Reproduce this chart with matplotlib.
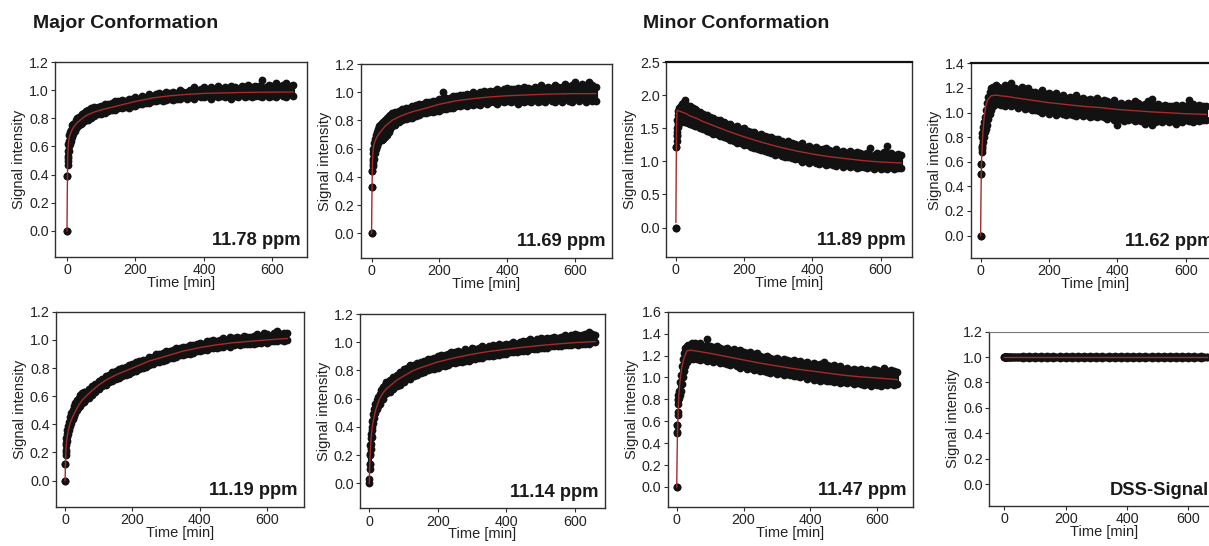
import matplotlib
matplotlib.use("Agg")
import matplotlib.pyplot as plt

plt.rcParams['font.family'] = ['Liberation Sans', 'DejaVu Sans']

# ---------------- data ----------------
time_min = [0, 1, 2, 3, 4, 5, 7, 9, 12, 15, 18, 22, 26, 30, 35, 40, 45, 50, 55,
            60, 70, 80, 90, 100, 110, 120, 130, 140, 150,
            160, 170, 180, 190, 200, 210, 220, 230, 240, 250,
            260, 270, 280, 290, 300, 310, 320, 330, 340, 350,
            360, 370, 380, 390, 400, 410, 420, 430, 440, 450,
            460, 470, 480, 490, 500, 510, 520, 530, 540, 550,
            560, 570, 580, 590, 600, 610, 620, 630, 640, 650,
            660]

fit_time = [0, 1, 2, 3, 5, 7, 10, 15, 20, 30, 40, 50, 60, 80, 100, 125, 150,
            200, 250, 300, 350, 400, 450, 500, 550, 600, 660]

# 11.78 ppm
p1178_hi = [0.0, 0.39, 0.52, 0.57, 0.62, 0.64, 0.68, 0.70, 0.72, 0.75, 0.76, 0.77, 0.79, 0.80, 0.81, 0.82, 0.83, 0.84, 0.85,
            0.86, 0.87, 0.88, 0.88, 0.89, 0.90, 0.90, 0.91, 0.92, 0.92,
            0.93, 0.92, 0.94, 0.94, 0.95, 0.94, 0.96, 0.95, 0.97, 0.96,
            0.97, 0.98, 0.97, 0.99, 0.98, 0.99, 0.98, 1.00, 0.99, 0.99,
            1.00, 1.02, 1.00, 1.01, 1.02, 1.00, 1.02, 1.01, 1.03, 1.01,
            1.02, 1.01, 1.03, 1.02, 1.01, 1.03, 1.02, 1.04, 1.02, 1.03,
            1.03, 1.07, 1.02, 1.04, 1.03, 1.05, 1.03, 1.04, 1.05, 1.03,
            1.04]
p1178_lo = [0.0, 0.39, 0.47, 0.50, 0.53, 0.57, 0.60, 0.62, 0.64, 0.67, 0.69, 0.71, 0.73, 0.74, 0.75, 0.76, 0.77, 0.78, 0.79,
            0.79, 0.80, 0.82, 0.83, 0.83, 0.84, 0.85, 0.86, 0.86, 0.87,
            0.87, 0.88, 0.87, 0.89, 0.89, 0.90, 0.90, 0.91, 0.91, 0.92,
            0.92, 0.93, 0.92, 0.93, 0.94, 0.93, 0.94, 0.94, 0.95, 0.94,
            0.95, 0.94, 0.96, 0.95, 0.95, 0.96, 0.94, 0.96, 0.95, 0.96,
            0.95, 0.96, 0.94, 0.96, 0.95, 0.97, 0.95, 0.96, 0.95, 0.96,
            0.96, 0.95, 0.97, 0.95, 0.96, 0.95, 0.97, 0.96, 0.95, 0.97,
            0.96]
p1178_fit = [0.0, 0.30, 0.50, 0.58, 0.64, 0.67, 0.69, 0.72, 0.74, 0.77, 0.79, 0.81, 0.825, 0.845, 0.86, 0.875, 0.89,
             0.92, 0.945, 0.96, 0.97, 0.977, 0.98, 0.983, 0.985, 0.986, 0.987]

# 11.69 ppm
p1169_hi = [0.0, 0.33, 0.44, 0.53, 0.57, 0.60, 0.64, 0.67, 0.70, 0.72, 0.74, 0.76, 0.77, 0.78, 0.79, 0.80, 0.82, 0.83, 0.84,
            0.85, 0.86, 0.87, 0.88, 0.89, 0.89, 0.90, 0.91, 0.92, 0.92,
            0.93, 0.93, 0.94, 0.94, 0.95, 1.00, 0.96, 0.96, 0.97, 0.97,
            0.98, 0.98, 0.99, 0.98, 1.00, 0.99, 1.00, 1.01, 1.00, 1.01,
            1.01, 1.02, 1.01, 1.02, 1.03, 1.02, 1.02, 1.03, 1.02, 1.04,
            1.03, 1.02, 1.04, 1.03, 1.05, 1.03, 1.04, 1.03, 1.05, 1.04,
            1.04, 1.06, 1.04, 1.05, 1.07, 1.04, 1.06, 1.05, 1.07, 1.05,
            1.04]
p1169_lo = [0.0, 0.33, 0.44, 0.48, 0.49, 0.51, 0.53, 0.57, 0.60, 0.62, 0.64, 0.66, 0.67, 0.66, 0.67, 0.68, 0.70, 0.72, 0.74,
            0.76, 0.77, 0.79, 0.80, 0.81, 0.82, 0.82, 0.83, 0.84, 0.85,
            0.85, 0.86, 0.86, 0.87, 0.87, 0.88, 0.88, 0.89, 0.89, 0.90,
            0.90, 0.91, 0.90, 0.92, 0.91, 0.92, 0.91, 0.93, 0.92, 0.93,
            0.93, 0.92, 0.94, 0.93, 0.94, 0.93, 0.94, 0.92, 0.94, 0.93,
            0.94, 0.93, 0.95, 0.93, 0.94, 0.93, 0.95, 0.94, 0.93, 0.95,
            0.93, 0.95, 0.94, 0.93, 0.95, 0.94, 0.96, 0.93, 0.95, 0.94,
            0.94]
p1169_fit = [0.0, 0.25, 0.42, 0.52, 0.60, 0.63, 0.65, 0.68, 0.70, 0.73, 0.76, 0.78, 0.80, 0.825, 0.845, 0.865, 0.88,
             0.915, 0.94, 0.955, 0.967, 0.975, 0.98, 0.985, 0.988, 0.99, 0.99]

# 11.89 ppm
p1189_hi = [0.0, 1.22, 1.38, 1.50, 1.62, 1.70, 1.76, 1.80, 1.82, 1.84, 1.86, 1.88, 1.92, 1.85, 1.84, 1.83, 1.82, 1.80, 1.79,
            1.77, 1.75, 1.71, 1.70, 1.67, 1.66, 1.62, 1.63, 1.59, 1.57,
            1.56, 1.52, 1.53, 1.49, 1.50, 1.46, 1.45, 1.44, 1.40, 1.41,
            1.39, 1.36, 1.37, 1.33, 1.34, 1.31, 1.28, 1.30, 1.27, 1.26,
            1.25, 1.27, 1.22, 1.23, 1.20, 1.22, 1.19, 1.18, 1.20, 1.17,
            1.16, 1.18, 1.14, 1.15, 1.13, 1.16, 1.12, 1.14, 1.13, 1.11,
            1.12, 1.20, 1.10, 1.13, 1.11, 1.14, 1.23, 1.12, 1.10, 1.11,
            1.09]
p1189_lo = [0.0, 1.22, 1.30, 1.40, 1.45, 1.52, 1.56, 1.58, 1.60, 1.62, 1.60, 1.61, 1.60, 1.59, 1.58, 1.57, 1.56, 1.55, 1.53,
            1.53, 1.51, 1.49, 1.46, 1.45, 1.42, 1.41, 1.38, 1.37, 1.35,
            1.32, 1.31, 1.28, 1.27, 1.25, 1.24, 1.21, 1.20, 1.19, 1.17,
            1.16, 1.14, 1.12, 1.10, 1.11, 1.08, 1.07, 1.06, 1.05, 1.04,
            1.03, 0.99, 1.01, 0.98, 1.00, 0.97, 0.96, 0.98, 0.95, 0.96,
            0.95, 0.93, 0.96, 0.92, 0.94, 0.91, 0.93, 0.90, 0.92, 0.91,
            0.90, 0.92, 0.89, 0.91, 0.88, 0.90, 0.89, 0.91, 0.88, 0.90,
            0.90]
p1189_fit = [0.08, 0.90, 1.50, 1.75, 1.77, 1.765, 1.76, 1.75, 1.74, 1.72, 1.69, 1.67, 1.65, 1.60, 1.56, 1.51, 1.46,
             1.37, 1.29, 1.22, 1.16, 1.11, 1.07, 1.04, 1.01, 0.99, 0.975]

# 11.62 ppm
p1162_hi = [0.0, 0.50, 0.58, 0.72, 0.80, 0.83, 0.88, 0.92, 0.96, 1.02, 1.08, 1.13, 1.17, 1.20, 1.21, 1.20, 1.22, 1.21, 1.20,
            1.20, 1.22, 1.19, 1.24, 1.20, 1.18, 1.21, 1.19, 1.20, 1.17,
            1.17, 1.16, 1.18, 1.15, 1.16, 1.14, 1.16, 1.13, 1.14, 1.12,
            1.13, 1.12, 1.14, 1.11, 1.12, 1.10, 1.11, 1.10, 1.12, 1.09,
            1.10, 1.09, 1.08, 1.10, 1.07, 1.08, 1.06, 1.08, 1.07, 1.09,
            1.08, 1.06, 1.07, 1.09, 1.11, 1.06, 1.07, 1.05, 1.06, 1.05,
            1.05, 1.06, 1.04, 1.06, 1.05, 1.10, 1.07, 1.04, 1.06, 1.05,
            1.05]
p1162_lo = [0.0, 0.50, 0.58, 0.68, 0.70, 0.73, 0.76, 0.80, 0.84, 0.87, 0.90, 0.95, 0.99, 1.02, 1.05, 1.06, 1.07, 1.08, 1.07,
            1.06, 1.05, 1.07, 1.05, 1.06, 1.04, 1.05, 1.03, 1.04, 1.02,
            1.02, 1.01, 1.00, 1.02, 0.99, 1.01, 0.98, 1.00, 0.99, 0.98,
            0.99, 0.98, 0.97, 0.99, 0.97, 0.98, 0.96, 0.97, 0.96, 0.97,
            0.96, 0.95, 0.96, 0.94, 0.90, 0.95, 0.93, 0.94, 0.95, 0.93,
            0.94, 0.93, 0.91, 0.94, 0.90, 0.92, 0.93, 0.92, 0.94, 0.92,
            0.93, 0.91, 0.93, 0.92, 0.94, 0.93, 0.92, 0.94, 0.93, 0.94,
            0.94]
p1162_fit = [0.0, 0.30, 0.50, 0.62, 0.75, 0.85, 0.95, 1.05, 1.10, 1.135, 1.14, 1.14, 1.135, 1.13, 1.12, 1.11, 1.10,
             1.08, 1.065, 1.05, 1.04, 1.025, 1.015, 1.005, 0.998, 0.99, 0.985]

# 11.19 ppm
p1119_hi = [0.0, 0.12, 0.20, 0.27, 0.30, 0.33, 0.36, 0.39, 0.42, 0.45, 0.48, 0.50, 0.53, 0.55, 0.57, 0.59, 0.61, 0.62, 0.63,
            0.63, 0.65, 0.67, 0.69, 0.71, 0.72, 0.74, 0.75, 0.77, 0.78,
            0.79, 0.80, 0.81, 0.82, 0.83, 0.84, 0.85, 0.86, 0.86, 0.88,
            0.88, 0.90, 0.90, 0.91, 0.92, 0.92, 0.93, 0.94, 0.94, 0.95,
            0.95, 0.96, 0.96, 0.97, 0.98, 0.97, 0.99, 0.99, 1.00, 0.99,
            1.00, 1.01, 1.00, 1.02, 1.01, 1.02, 1.01, 1.03, 1.02, 1.02,
            1.03, 1.04, 1.02, 1.05, 1.04, 1.03, 1.05, 1.06, 1.04, 1.05,
            1.05]
p1119_lo = [0.0, 0.12, 0.18, 0.22, 0.25, 0.28, 0.31, 0.33, 0.36, 0.39, 0.41, 0.44, 0.46, 0.48, 0.50, 0.52, 0.53, 0.55, 0.56,
            0.57, 0.59, 0.61, 0.63, 0.65, 0.67, 0.68, 0.70, 0.71, 0.72,
            0.73, 0.74, 0.75, 0.76, 0.77, 0.78, 0.79, 0.80, 0.81, 0.82,
            0.83, 0.84, 0.84, 0.85, 0.86, 0.87, 0.87, 0.88, 0.89, 0.89,
            0.90, 0.90, 0.91, 0.92, 0.92, 0.93, 0.93, 0.94, 0.94, 0.94,
            0.95, 0.95, 0.96, 0.95, 0.96, 0.97, 0.96, 0.97, 0.97, 0.97,
            0.97, 0.98, 0.98, 0.99, 0.98, 0.99, 0.99, 0.99, 1.00, 0.99,
            1.00]
p1119_fit = [0.0, 0.12, 0.19, 0.24, 0.29, 0.32, 0.36, 0.41, 0.44, 0.49, 0.535, 0.57, 0.595, 0.64, 0.68, 0.72, 0.75,
             0.80, 0.85, 0.885, 0.92, 0.945, 0.965, 0.98, 0.99, 1.0, 1.01]

# 11.14 ppm
p1114_hi = [0.03, 0.14, 0.21, 0.27, 0.32, 0.35, 0.40, 0.44, 0.49, 0.53, 0.56, 0.59, 0.61, 0.63, 0.66, 0.68, 0.70, 0.72, 0.72,
            0.73, 0.75, 0.77, 0.79, 0.81, 0.82, 0.84, 0.84, 0.85, 0.86,
            0.87, 0.88, 0.88, 0.89, 0.90, 0.91, 0.91, 0.92, 0.93, 0.93,
            0.94, 0.93, 0.95, 0.94, 0.96, 0.95, 0.96, 0.97, 0.96, 0.97,
            0.98, 0.97, 0.99, 0.98, 0.99, 0.99, 1.00, 0.99, 1.00, 1.01,
            1.01, 1.02, 1.01, 1.02, 1.03, 1.02, 1.03, 1.03, 1.04, 1.03,
            1.04, 1.05, 1.04, 1.05, 1.06, 1.05, 1.05, 1.06, 1.07, 1.06,
            1.05]
p1114_lo = [0.0, 0.10, 0.14, 0.20, 0.24, 0.28, 0.33, 0.38, 0.43, 0.46, 0.50, 0.53, 0.55, 0.56, 0.59, 0.60, 0.63, 0.64, 0.65,
            0.65, 0.67, 0.69, 0.70, 0.72, 0.74, 0.74, 0.76, 0.77, 0.78,
            0.79, 0.80, 0.81, 0.81, 0.82, 0.83, 0.83, 0.84, 0.85, 0.85,
            0.86, 0.86, 0.87, 0.87, 0.88, 0.88, 0.89, 0.89, 0.90, 0.90,
            0.90, 0.91, 0.91, 0.92, 0.92, 0.93, 0.93, 0.93, 0.94, 0.94,
            0.94, 0.95, 0.95, 0.95, 0.96, 0.96, 0.96, 0.97, 0.97, 0.97,
            0.97, 0.98, 0.98, 0.98, 0.99, 0.98, 0.99, 0.99, 0.99, 1.00,
            1.00]
p1114_fit = [0.0, 0.10, 0.17, 0.22, 0.30, 0.36, 0.42, 0.48, 0.53, 0.60, 0.64, 0.67, 0.69, 0.73, 0.76, 0.795, 0.82,
             0.86, 0.89, 0.915, 0.935, 0.95, 0.965, 0.977, 0.988, 0.997, 1.005]

# 11.47 ppm
p1147_hi = [0.0, 0.50, 0.57, 0.68, 0.80, 0.84, 0.88, 0.96, 1.02, 1.10, 1.17, 1.22, 1.27, 1.29, 1.30, 1.30, 1.31, 1.30, 1.31,
            1.30, 1.31, 1.29, 1.35, 1.29, 1.28, 1.29, 1.27, 1.26, 1.27,
            1.25, 1.26, 1.24, 1.25, 1.23, 1.22, 1.23, 1.21, 1.22, 1.20,
            1.19, 1.20, 1.18, 1.17, 1.18, 1.16, 1.17, 1.16, 1.15, 1.16,
            1.14, 1.15, 1.13, 1.14, 1.12, 1.13, 1.11, 1.12, 1.14, 1.11,
            1.10, 1.11, 1.09, 1.10, 1.08, 1.09, 1.07, 1.08, 1.07, 1.08,
            1.06, 1.07, 1.06, 1.08, 1.07, 1.06, 1.09, 1.06, 1.07, 1.06,
            1.05]
p1147_lo = [0.0, 0.49, 0.57, 0.66, 0.76, 0.79, 0.81, 0.84, 0.88, 0.94, 1.00, 1.06, 1.10, 1.14, 1.16, 1.17, 1.18, 1.17, 1.18,
            1.17, 1.16, 1.17, 1.15, 1.16, 1.14, 1.15, 1.13, 1.13, 1.12,
            1.11, 1.12, 1.10, 1.09, 1.10, 1.08, 1.09, 1.07, 1.08, 1.06,
            1.06, 1.05, 1.04, 1.05, 1.03, 1.04, 1.02, 1.03, 1.02, 1.01,
            1.01, 1.00, 1.01, 0.99, 1.00, 0.98, 0.99, 0.97, 0.98, 0.97,
            0.97, 0.96, 0.97, 0.95, 0.96, 0.95, 0.96, 0.94, 0.95, 0.94,
            0.93, 0.94, 0.92, 0.94, 0.93, 0.92, 0.94, 0.93, 0.94, 0.93,
            0.94]
p1147_fit = [0.0, 0.25, 0.45, 0.58, 0.75, 0.86, 0.97, 1.09, 1.16, 1.24, 1.25, 1.245, 1.24, 1.23, 1.22, 1.205, 1.19,
             1.16, 1.13, 1.105, 1.08, 1.06, 1.04, 1.02, 1.005, 0.995, 0.98]

# DSS reference signal
dss_hi = [1.0, 1.0, 1.0, 1.0, 1.0, 1.0, 1.0, 1.0, 1.0, 1.0, 1.0, 1.0, 1.0, 1.0, 1.0, 1.0, 1.0, 1.0, 1.0,
          1.005, 1.0, 1.005, 1.0, 1.005, 1.0, 1.005, 1.0, 1.005, 1.0,
          1.005, 1.0, 1.005, 1.0, 1.005, 1.0, 1.005, 1.0, 1.005, 1.0,
          1.005, 1.0, 1.005, 1.0, 1.005, 1.0, 1.005, 1.0, 1.005, 1.0,
          1.005, 1.0, 1.005, 1.0, 1.005, 1.0, 1.005, 1.0, 1.005, 1.0,
          1.005, 1.0, 1.005, 1.0, 1.005, 1.0, 1.005, 1.0, 1.005, 1.0,
          1.005, 1.0, 1.005, 1.0, 1.005, 1.0, 1.005, 1.0, 1.005, 1.0,
          1.0]
dss_lo = [1.0, 1.0, 1.0, 1.0, 1.0, 1.0, 1.0, 1.0, 1.0, 1.0, 1.0, 1.0, 1.0, 1.0, 1.0, 1.0, 1.0, 1.0, 1.0,
          0.995, 1.0, 0.995, 1.0, 0.995, 1.0, 0.995, 1.0, 0.995, 1.0,
          0.995, 1.0, 0.995, 1.0, 0.995, 1.0, 0.995, 1.0, 0.995, 1.0,
          0.995, 1.0, 0.995, 1.0, 0.995, 1.0, 0.995, 1.0, 0.995, 1.0,
          0.995, 1.0, 0.995, 1.0, 0.995, 1.0, 0.995, 1.0, 0.995, 1.0,
          0.995, 1.0, 0.995, 1.0, 0.995, 1.0, 0.995, 1.0, 0.995, 1.0,
          0.995, 1.0, 0.995, 1.0, 0.995, 1.0, 0.995, 1.0, 0.995, 1.0,
          1.0]
dss_fit = [1.0, 1.0, 1.0, 1.0, 1.0, 1.0, 1.0, 1.0, 1.0, 1.0, 1.0, 1.0, 1.0, 1.0, 1.0, 1.0, 1.0,
           1.0, 1.0, 1.0, 1.0, 1.0, 1.0, 1.0, 1.0, 1.0, 1.0]

panel_labels = ["11.78 ppm", "11.69 ppm", "11.89 ppm", "11.62 ppm",
                "11.19 ppm", "11.14 ppm", "11.47 ppm", "DSS-Signal"]
x_ticks = [0, 200, 400, 600]

# ---------------- layout ----------------
W, H = 1209, 546
fig = plt.figure(figsize=(W / 100, H / 100), dpi=100)
fig.patch.set_facecolor('white')


def rect(x0, y0, x1, y1):
    return [x0 / W, 1 - y1 / H, (x1 - x0) / W, (y1 - y0) / H]


panels = [
    (p1178_hi, p1178_lo, p1178_fit, (55, 62, 306.7, 257), (-35, 700), (-0.185, 1.2), [0, 0.2, 0.4, 0.6, 0.8, 1.0, 1.2]),
    (p1169_hi, p1169_lo, p1169_fit, (360.7, 64, 611.7, 258), (-32, 707), (-0.175, 1.2), [0, 0.2, 0.4, 0.6, 0.8, 1.0, 1.2]),
    (p1189_hi, p1189_lo, p1189_fit, (666, 62, 912, 256.7), (-29, 692), (-0.44, 2.5), [0, 0.5, 1.0, 1.5, 2.0, 2.5]),
    (p1162_hi, p1162_lo, p1162_fit, (970.7, 63.3, 1220, 257.7), (-29, 700), (-0.18, 1.4), [0, 0.2, 0.4, 0.6, 0.8, 1.0, 1.2, 1.4]),
    (p1119_hi, p1119_lo, p1119_fit, (56, 311.7, 304, 506.7), (-27, 709), (-0.185, 1.2), [0, 0.2, 0.4, 0.6, 0.8, 1.0, 1.2]),
    (p1114_hi, p1114_lo, p1114_fit, (360, 314, 605, 508.3), (-27, 688), (-0.177, 1.2), [0, 0.2, 0.4, 0.6, 0.8, 1.0, 1.2]),
    (p1147_hi, p1147_lo, p1147_fit, (667.7, 311.7, 913, 506.7), (-27, 707), (-0.18, 1.6), [0, 0.2, 0.4, 0.6, 0.8, 1.0, 1.2, 1.4, 1.6]),
    (dss_hi, dss_lo, dss_fit, (989.3, 331.7, 1219, 506), (-49, 700), (-0.173, 1.2), [0, 0.2, 0.4, 0.6, 0.8, 1.0, 1.2]),
]
label_x = [0.975, 0.975, 0.975, 0.975, 0.975, 0.975, 0.975, 0.955]

tick_fs = 10.3
label_fs = 10.5
frame_col = '#303030'
pt_col = '#121212'
fit_col = '#a52a2a'

for i, (hi, lo, fit, box, xl, yl, yt) in enumerate(panels):
    ax = fig.add_axes(rect(*box))
    # spread of the readings at each time point
    ax.vlines(time_min, lo, hi, colors=pt_col, lw=3.0, zorder=2)
    ax.plot(time_min, hi, 'o', ms=4.6, color=pt_col, mec=pt_col, zorder=2)
    ax.plot(time_min, lo, 'o', ms=4.6, color=pt_col, mec=pt_col, zorder=2)
    ax.plot(fit_time, fit, '-', color=fit_col, lw=1.0, zorder=3)
    ax.set_xlim(*xl)
    ax.set_ylim(*yl)
    ax.set_xticks(x_ticks)
    ax.set_yticks(yt)
    ax.set_yticklabels([f"{v:.1f}" for v in yt])
    ax.tick_params(axis='both', direction='out', length=3, width=0.8, color=frame_col,
                   labelsize=tick_fs, labelcolor='#222222', pad=1.5)
    for s in ax.spines.values():
        s.set_color(frame_col)
        s.set_linewidth(1.0)
    if i in (2, 3):
        ax.spines['top'].set_linewidth(1.6)
        ax.spines['top'].set_color('#111111')
    if i == 7:
        ax.spines['top'].set_color('#777777')
        ax.spines['top'].set_linewidth(0.8)
    ax.set_ylabel('Signal intensity', fontsize=label_fs, color='#222222', labelpad=2)
    ax.set_xlabel('Time [min]', fontsize=label_fs, color='#222222', labelpad=-1)
    ax.text(label_x[i], 0.04, panel_labels[i], transform=ax.transAxes, ha='right', va='bottom',
            fontsize=13.2, fontweight='bold', color='#1a1a1a')

fig.text(33 / W, 1 - 24 / H, 'Major Conformation', fontsize=14, fontweight='bold',
         ha='left', va='center', color='#1a1a1a')
fig.text(643 / W, 1 - 24 / H, 'Minor Conformation', fontsize=14, fontweight='bold',
         ha='left', va='center', color='#1a1a1a')

fig.savefig('out.png', dpi=100, facecolor='white')
